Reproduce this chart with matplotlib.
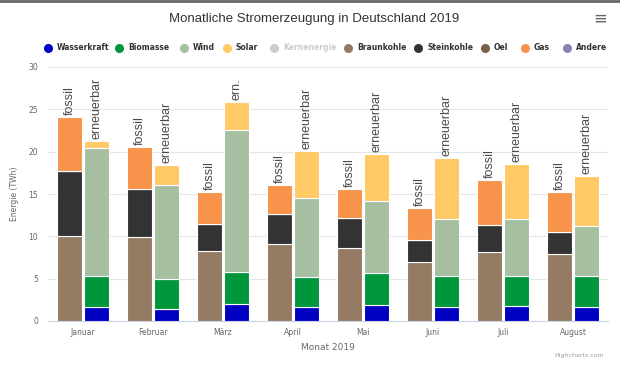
import matplotlib.pyplot as plt
from matplotlib.lines import Line2D
import numpy as np

# Monate und Werte (TWh)
monate = ["Januar", "Februar", "März", "April", "Mai", "Juni", "Juli", "August"]

# fossil
braunkohle = [10.0, 9.9, 8.3, 9.05, 8.65, 7.0, 8.2, 7.9]
steinkohle = [7.75, 5.7, 3.2, 3.6, 3.55, 2.55, 3.15, 2.65]
oel = [0, 0, 0, 0, 0, 0, 0, 0]
gas = [6.35, 4.9, 3.75, 3.4, 3.35, 3.75, 5.3, 4.65]

# erneuerbar
wasserkraft = [1.6, 1.4, 1.97, 1.6, 1.9, 1.7, 1.8, 1.7]
biomasse = [3.75, 3.55, 3.85, 3.6, 3.8, 3.6, 3.55, 3.65]
wind = [15.05, 11.1, 16.73, 9.35, 8.5, 6.8, 6.75, 5.9]
solar = [0.85, 2.35, 3.35, 5.55, 5.55, 7.1, 6.4, 5.85]

ern_labels = ["erneuerbar", "erneuerbar", "ern.", "erneuerbar",
              "erneuerbar", "erneuerbar", "erneuerbar", "erneuerbar"]

farben = {
    "Wasserkraft": "#0000c0",
    "Biomasse": "#00963c",
    "Wind": "#a6bfa0",
    "Solar": "#ffc966",
    "Kernenergie": "#cccccc",
    "Braunkohle": "#957b63",
    "Steinkohle": "#333333",
    "Oel": "#7a6048",
    "Gas": "#f7934a",
    "Andere": "#8c7fb3",
}

fig = plt.figure(figsize=(6.2, 3.87), dpi=100)
ax = fig.add_axes([48/620, 66/387, 560/620, 254/387])

x = np.arange(len(monate))
w = 0.35
off = 0.195
kw = dict(width=w, edgecolor="white", linewidth=0.8, zorder=3)

def stapel(pos, reihen):
    unten = np.zeros(len(monate))
    for name, werte in reihen:
        werte = np.array(werte, dtype=float)
        ax.bar(pos, werte, bottom=unten, color=farben[name], **kw)
        unten = unten + werte
    return unten

top_f = stapel(x - off, [("Braunkohle", braunkohle), ("Steinkohle", steinkohle),
                         ("Oel", oel), ("Gas", gas)])
top_e = stapel(x + off, [("Wasserkraft", wasserkraft), ("Biomasse", biomasse),
                         ("Wind", wind), ("Solar", solar)])

for i in range(len(monate)):
    ax.annotate("fossil", (x[i] - off, top_f[i]), xytext=(0, 1.5), textcoords="offset points",
                rotation=90, ha="center", va="bottom", fontsize=9,
                family="Liberation Sans", color="#4a4a4a")
    ax.annotate(ern_labels[i], (x[i] + off, top_e[i]), xytext=(0, 1.5), textcoords="offset points",
                rotation=90, ha="center", va="bottom", fontsize=9,
                family="Liberation Sans", color="#4a4a4a")

ax.set_xlim(-0.5, len(monate) - 0.5)
ax.set_ylim(0, 30)
ax.set_yticks([0, 5, 10, 15, 20, 25, 30])
ax.set_xticks(x)
ax.set_xticklabels(monate)
ax.tick_params(axis="both", length=0, labelsize=5.5, labelcolor="#666666")
ax.tick_params(axis="y", pad=7)
ax.tick_params(axis="x", pad=5)
ax.grid(axis="y", color="#e6e6e6", linewidth=0.8, zorder=0)
for s in ["top", "right", "left"]:
    ax.spines[s].set_visible(False)
ax.spines["bottom"].set_color("#ccd6eb")
ax.spines["bottom"].set_linewidth(0.8)
ax.set_ylabel("Energie (TWh)", fontsize=5.5, color="#666666", labelpad=7)
ax.set_xlabel("Monat 2019", fontsize=6.5, color="#666666", labelpad=4)

fig.text(0.506, 1 - 19/387, "Monatliche Stromerzeugung in Deutschland 2019",
         ha="center", va="center", fontsize=9.5, color="#333333", family="Liberation Sans")
fig.text(600/620, 1 - 19/387, "≡", ha="center", va="center", fontsize=12, color="#666666")
fig.text(604/620, 1 - 356/387, "Highcharts.com", ha="right", va="center",
         fontsize=4.5, color="#999999")

# Legende, von Hand gesetzt
namen = list(farben.keys())
leg_x = [48, 119, 184, 227, 274, 348, 418, 485, 525, 567]
leg_y = 1 - 48/387
for n, px in zip(namen, leg_x):
    fig.add_artist(Line2D([px/620], [leg_y], transform=fig.transFigure, marker="o",
                          markersize=5.5, linestyle="", markerfacecolor=farben[n],
                          markeredgecolor=farben[n]))
    fig.text((px + 9)/620, leg_y, n, ha="left", va="center", fontsize=5.5,
             fontweight="bold", color="#cccccc" if n == "Kernenergie" else "#333333")

fig.add_artist(Line2D([0, 1], [0.997, 0.997], transform=fig.transFigure,
                      color="#666666", linewidth=2))

fig.savefig("out.png", dpi=100)
